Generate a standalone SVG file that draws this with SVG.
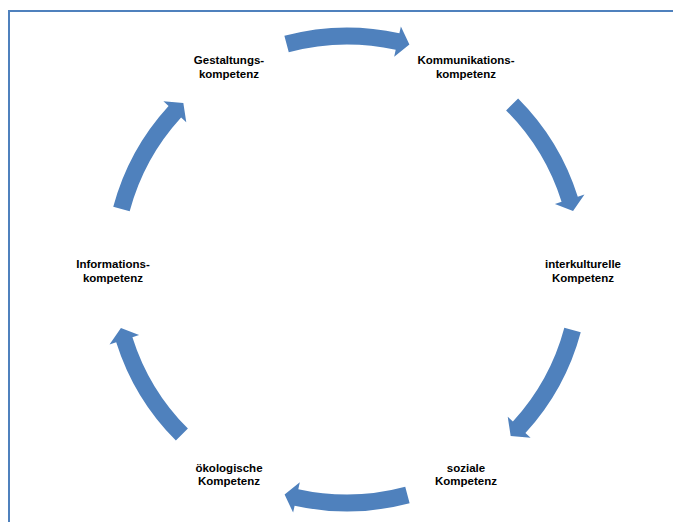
<svg xmlns="http://www.w3.org/2000/svg" xmlns:xlink="http://www.w3.org/1999/xlink" width="673" height="522" viewBox="0 0 673 522">
  <style>
    .lbl { font-family: "Liberation Sans", Arial, sans-serif; font-weight: bold; font-size: 11.5px; fill: #000; text-anchor: middle; }
    .arr { fill: #4f81bd; }
  </style>
  <defs>
    <path id="arrow" class="arr" d="M 284.37 35.75 A 242 242 0 0 1 399.38 33.24 L 400.89 26.40 L 409.40 44.49 L 394.18 56.67 L 395.70 49.83 A 225 225 0 0 0 288.77 52.17 Z"/>
  </defs>
  <rect x="0" y="0" width="673" height="522" fill="#ffffff"/>
  <rect id="frame" x="9" y="11" width="700" height="600" fill="none" stroke="#4f81bd" stroke-width="2"/>
  <g id="connectors">
    <use xlink:href="#arrow" href="#arrow"/>
    <use xlink:href="#arrow" href="#arrow" transform="rotate(60 347 269.5)"/>
    <use xlink:href="#arrow" href="#arrow" transform="rotate(120 347 269.5)"/>
    <use xlink:href="#arrow" href="#arrow" transform="rotate(180 347 269.5)"/>
    <use xlink:href="#arrow" href="#arrow" transform="rotate(240 347 269.5)"/>
    <use xlink:href="#arrow" href="#arrow" transform="rotate(300 347 269.5)"/>
  </g>
  <g id="node-gestaltung">
    <text class="lbl" x="229" y="64">Gestaltungs-</text>
    <text class="lbl" x="229" y="77.5">kompetenz</text>
  </g>
  <g id="node-kommunikation">
    <text class="lbl" x="466" y="64">Kommunikations-</text>
    <text class="lbl" x="466" y="77.5">kompetenz</text>
  </g>
  <g id="node-interkulturell">
    <text class="lbl" x="583" y="268">interkulturelle</text>
    <text class="lbl" x="583" y="281.5">Kompetenz</text>
  </g>
  <g id="node-sozial">
    <text class="lbl" x="466" y="471.5">soziale</text>
    <text class="lbl" x="466" y="485">Kompetenz</text>
  </g>
  <g id="node-oekologisch">
    <text class="lbl" x="229" y="471.5">ökologische</text>
    <text class="lbl" x="229" y="485">Kompetenz</text>
  </g>
  <g id="node-information">
    <text class="lbl" x="113" y="268">Informations-</text>
    <text class="lbl" x="113" y="281.5">kompetenz</text>
  </g>
</svg>
